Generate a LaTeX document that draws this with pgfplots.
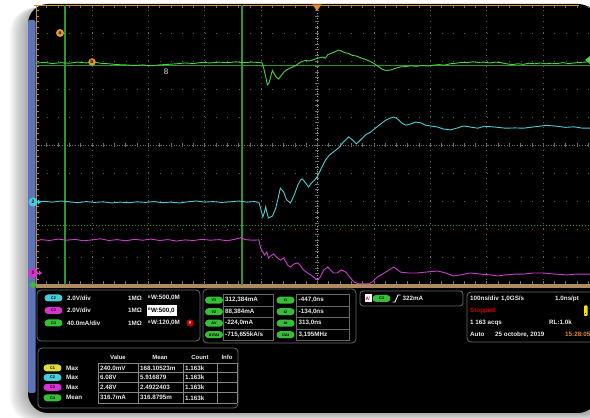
\documentclass[border=0pt]{standalone}
\usepackage{pgfplots}
\pgfplotsset{compat=1.18}
\usepackage{fontspec}
\setmainfont{Liberation Sans}
\definecolor{trgreen}{RGB}{80,210,70}
\definecolor{trcyan}{RGB}{80,205,210}
\definecolor{trmag}{RGB}{205,60,205}
\definecolor{curgreen}{RGB}{45,150,45}
\definecolor{gridc}{RGB}{95,95,95}
\definecolor{orng}{RGB}{225,140,45}
\definecolor{tanc}{RGB}{175,140,95}
\definecolor{bstrip}{RGB}{95,115,185}
\definecolor{pillg}{RGB}{55,190,55}
\definecolor{pillc}{RGB}{70,205,215}
\definecolor{pillm}{RGB}{215,50,205}
\definecolor{pilly}{RGB}{220,220,60}
\definecolor{panelb}{RGB}{105,105,105}
\definecolor{txt}{RGB}{235,235,235}
\newcommand{\pill}[4]{\node[fill=#3, rounded corners=3.5bp, minimum width=18bp, minimum height=7bp, inner sep=0pt, text=black, font=\fontsize{3.8}{4}\selectfont\bfseries] at (#1,#2) {#4};}
\newcommand{\tx}[3]{\node[anchor=west, inner sep=0pt, text=txt, font=\fontsize{6.3}{7}\selectfont\bfseries] at (#1,#2) {#3};}
\newcommand{\txk}[4]{\node[anchor=west, inner sep=0pt, text=#4, font=\fontsize{6.3}{7}\selectfont\bfseries] at (#1,#2) {#3};}
\newcommand{\txm}[3]{\node[anchor=center, inner sep=0pt, text=txt, font=\fontsize{6}{7}\selectfont\bfseries] at (#1,#2) {#3};}
\newcommand{\bw}{\raisebox{1.3bp}{\fontsize{3.6}{4}\selectfont B}\kern0.3bp W}
\begin{document}
\begin{tikzpicture}
\useasboundingbox (0,0) rectangle (590bp,418bp);
\fill[white] (0,0) rectangle (590bp,418bp);
\begin{scope}[shift={(0,418bp)}, x=1bp, y=-1bp]
  % soft shadow
  \foreach \i in {1,...,10}
    \fill[black, opacity=0.035, rounded corners=24bp] ({28-1.8*\i},{5+0.3*\i}) rectangle (610,{413+0.9*\i});
  % black frame
  \fill[black, rounded corners=20bp] (28,4) rectangle (598,413);
  \fill[bstrip, rounded corners=2bp] (28,20) rectangle (35.5,393);
  % center lines
  \draw[tanc!80!white, line width=0.7bp, dash pattern=on 1bp off 1.6bp] (317,5) -- (317,285);
  \draw[gridc!90!white, line width=0.7bp, dash pattern=on 1bp off 1.6bp] (36,145) -- (590,145);
  \foreach \i in {1,...,49} \draw[gridc!90!white, line width=0.6bp] (315,{5+\i*5.6}) -- (319,{5+\i*5.6});
  \foreach \i in {1,...,49} \draw[gridc!90!white, line width=0.6bp] ({35.5+\i*11.28},143) -- ++(0,4);
  % edges
  \draw[orng, line width=1.1bp] (34,5.2) -- (579,5.2);
  \foreach \i in {1,...,49} \draw[gridc!90!white, line width=0.6bp] ({35.5+\i*11.28},6) -- ++(0,2.5);
  \draw[tanc, line width=1bp] (36,5) -- (36,286);
  \foreach \i in {1,...,49} \draw[tanc, line width=0.6bp] (36,{5+\i*5.6}) -- ++(3,0);
  \fill[tanc] (36,284) rectangle (600,288);
  \foreach \i in {1,...,49} \draw[gridc!90!white, line width=0.6bp] ({35.5+\i*11.28},284) -- ++(0,-2.5);
  % t1 cursor line (t = -447 ns)
  \draw[curgreen, line width=1.5bp] (65,5.5) -- (65,284);
\end{scope}

\begin{axis}[
  at={(35.5bp,133bp)}, anchor=south west, scale only axis,
  width=554.5bp, height=280bp,
  xmin=-500, xmax=483, ymin=-5, ymax=5,
  axis line style={draw=none},
  xtick={-400,-300,...,400}, ytick={-4,-3,...,4},
  xticklabels={}, yticklabels={},
  major tick length=0pt,
  grid=major,
  x grid style={gridc, line width=0.8bp, dash pattern=on 0.8bp off 4.8bp},
  y grid style={gridc, line width=0.8bp, dash pattern=on 0.8bp off 10.48bp},
  clip=true,
]
\addplot[draw=none, forget plot] coordinates {(0,0) (1,0)};
% cursors (t1 = -447 ns, t2 = -134 ns, V1, V2)
\draw[curgreen, line width=1.5bp] (axis cs:-447,-5) -- (axis cs:-447,5);
\draw[curgreen, line width=1.5bp] (axis cs:-134,-5) -- (axis cs:-134,5);
\draw[curgreen, line width=1.1bp] (axis cs:-500,2.84) -- (axis cs:483,2.84);
\draw[curgreen, line width=1bp, dash pattern=on 1.5bp off 1.5bp] (axis cs:-500,-2.86) -- (axis cs:483,-2.86);
% C4 green trace
\addplot[trgreen, line width=0.9bp] coordinates {
(-500,2.92) (-485,2.95) (-470,2.91) (-455,2.94) (-440,2.92) (-425,2.96) (-410,2.93) (-398,2.97) (-385,2.92) (-370,2.90)
(-355,2.87) (-340,2.86) (-325,2.84) (-310,2.86) (-295,2.83) (-280,2.86) (-265,2.88) (-250,2.90) (-235,2.93) (-220,2.91)
(-205,2.95) (-190,2.93) (-175,2.96) (-160,2.94) (-145,2.97) (-130,2.94) (-118,2.96) (-105,2.95) (-98,2.93) (-95,2.7)
(-92,2.45) (-89,2.15) (-86,2.22) (-83,2.45) (-80,2.66) (-77,2.55) (-73,2.42) (-69,2.36) (-65,2.47) (-60,2.6)
(-55,2.68) (-48,2.75) (-40,2.82) (-30,2.96) (-22,3.02) (-15,3.0) (-9,3.03) (0,3.1) (9,3.14) (14,3.1)
(18,3.22) (25,3.28) (32,3.34) (37,3.39) (42,3.36) (48,3.3) (55,3.27) (62,3.2) (70,3.17) (78,3.1)
(86,3.05) (94,2.98) (101,2.9) (108,2.8) (115,2.7) (122,2.66) (130,2.68) (138,2.74) (147,2.79) (156,2.8)
(165,2.83) (175,2.81) (185,2.84) (195,2.82) (205,2.85) (215,2.87) (225,2.85) (235,2.9) (245,2.92) (255,2.95)
(265,2.94) (275,2.97) (285,2.95) (295,2.96) (305,2.93) (315,2.96) (325,2.94) (335,2.9) (345,2.87) (355,2.9)
(365,2.88) (375,2.92) (385,2.9) (395,2.93) (405,2.9) (415,2.92) (425,2.91) (435,2.94) (445,2.91) (455,2.93)
(465,2.95) (475,2.96) (483,2.98)};
% C2 cyan trace
\addplot[trcyan, line width=0.9bp] coordinates {
(-500,-2.05) (-485,-2.01) (-470,-2.04) (-455,-2.0) (-440,-2.03) (-425,-2.06) (-410,-2.02) (-395,-2.05) (-380,-2.03) (-365,-2.07)
(-350,-2.04) (-335,-2.06) (-320,-2.03) (-305,-2.05) (-290,-2.02) (-275,-2.06) (-260,-2.04) (-245,-2.07) (-230,-2.03) (-215,-2.0)
(-200,-2.04) (-185,-2.02) (-170,-2.05) (-155,-2.03) (-140,-2.0) (-125,-2.04) (-112,-2.02) (-104,-2.05) (-101,-2.25) (-97,-2.57)
(-94,-2.39) (-92,-2.21) (-90,-2.39) (-87,-2.61) (-83,-2.57) (-80,-2.54) (-74,-2.25) (-69,-1.82) (-66,-1.54) (-60,-1.68)
(-55,-1.96) (-48,-2.07) (-42,-1.82) (-35,-1.43) (-30,-1.25) (-27,-1.21) (-21,-1.36) (-16,-1.5) (-11,-1.36) (-5,-1.25)
(0,-1.11) (7,-0.82) (14,-0.54) (21,-0.36) (28,-0.25) (37,-0.11) (46,0.11) (55,0.29) (62,0.18) (69,0.04)
(76,0.18) (85,0.36) (94,0.46) (103,0.61) (112,0.75) (121,0.89) (129,0.96) (135,1.0) (142,0.93) (149,0.79)
(156,0.71) (165,0.75) (174,0.82) (183,0.79) (191,0.71) (200,0.68) (213,0.64) (223,0.57) (236,0.54) (248,0.61)
(259,0.68) (271,0.64) (284,0.6) (296,0.67) (315,0.64) (333,0.6) (350,0.61) (365,0.6) (385,0.65) (405,0.7)
(420,0.68) (440,0.63) (455,0.65) (470,0.6) (483,0.6)};
% C3 magenta trace
\addplot[trmag, line width=0.9bp] coordinates {
(-500,-3.43) (-490,-3.38) (-475,-3.41) (-460,-3.36) (-445,-3.40) (-430,-3.37) (-415,-3.42) (-400,-3.39) (-385,-3.35) (-370,-3.41)
(-355,-3.38) (-340,-3.42) (-325,-3.37) (-310,-3.40) (-295,-3.36) (-280,-3.41) (-265,-3.38) (-250,-3.43) (-235,-3.39) (-220,-3.41)
(-205,-3.37) (-190,-3.40) (-175,-3.38) (-160,-3.42) (-145,-3.36) (-136,-3.31) (-128,-3.38) (-115,-3.40) (-104,-3.39) (-101,-3.68)
(-97,-3.82) (-94,-3.93) (-90,-3.82) (-87,-4.04) (-83,-3.96) (-78,-3.89) (-73,-4.0) (-66,-4.11) (-60,-4.04) (-53,-4.29)
(-48,-4.36) (-42,-4.25) (-35,-4.21) (-30,-4.32) (-25,-4.46) (-18,-4.57) (-12,-4.64) (-5,-4.75) (0,-4.82) (5,-4.71)
(11,-4.46) (18,-4.36) (23,-4.46) (28,-4.57) (35,-4.57) (42,-4.46) (50,-4.54) (57,-4.71) (64,-4.89) (73,-4.96)
(82,-4.96) (90,-4.96) (97,-4.89) (106,-4.71) (115,-4.61) (124,-4.5) (129,-4.43) (135,-4.36) (142,-4.46) (147,-4.54)
(161,-4.57) (177,-4.57) (191,-4.54) (213,-4.5) (227,-4.57) (241,-4.68) (253,-4.64) (271,-4.57) (289,-4.61) (307,-4.64)
(319,-4.68) (333,-4.64) (351,-4.61) (365,-4.61) (383,-4.57) (400,-4.57) (420,-4.61) (443,-4.64) (458,-4.61) (483,-4.61)};
\end{axis}

\begin{scope}[shift={(0,418bp)}, x=1bp, y=-1bp]
  % markers on the grid
  \fill[orng] (312.5,4.5) -- (321.5,4.5) -- (317,11) -- cycle;
  \node[circle, fill=orng!90!yellow, minimum size=8bp, inner sep=0pt, text=black, font=\fontsize{5}{5}\selectfont\bfseries] at (60,33) {a};
  \node[circle, fill=orng!90!yellow, minimum size=7.5bp, inner sep=0pt, text=black, font=\fontsize{5}{5}\selectfont\bfseries] at (92,62) {b};
  \node[text=white!80!gray, inner sep=0pt, font=\fontsize{8}{8}\selectfont] at (166,72) {8};
  \fill[trgreen] (590,56) -- (585,60) -- (590,64) -- cycle;
  \node[circle, fill=pillc, minimum size=9bp, inner sep=0pt, text=black, font=\fontsize{5}{5}\selectfont\bfseries] at (33,202) {2};
  \fill[pillc] (38,199.5) -- (41,202) -- (38,204.5) -- cycle;
  \node[circle, fill=pillm, minimum size=10bp, inner sep=0pt, text=black, font=\fontsize{5}{5}\selectfont\bfseries] at (33,273) {3};
  \fill[pillm] (39,270.5) -- (42,273) -- (39,275.5) -- cycle;
  \fill[pillg] (33,285) circle (3bp);

  % Panel 1: channels
  \draw[panelb, line width=0.8bp, rounded corners=4bp] (37,290) rectangle (200,341);
  \pill{53.5}{298}{pillc}{C2}
  \pill{53.5}{310.5}{pillm}{C3}
  \pill{53.5}{323}{pillg}{C4}
  \tx{67}{298}{2.0V/div}
  \tx{67}{310.5}{2.0V/div}
  \tx{67}{323}{40.0mA/div}
  \tx{128}{298}{1MΩ}
  \tx{128}{310.5}{1MΩ}
  \tx{128}{323}{1MΩ}
  \tx{148}{298}{\bw:500,0M}
  \fill[white] (147,305) rectangle (177,316);
  \txk{148}{310.5}{\bw:500,0}{black}
  \tx{148}{323}{\bw:120,0M}
  \fill[red!75!black] (190,323) circle (3.6bp);
  \node[text=white, inner sep=0pt, font=\fontsize{5}{5}\selectfont\bfseries] at (190,323) {×};

  % Panel 2: cursors
  \draw[panelb, line width=0.8bp, rounded corners=4bp] (203,289) rectangle (356,343);
  \foreach \r in {0,1,2,3} {
    \draw[panelb, line width=0.7bp] (223,{294.5+\r*11.5}) rectangle (273,{306+\r*11.5});
    \draw[panelb, line width=0.7bp] (296,{294.5+\r*11.5}) rectangle (349,{306+\r*11.5});
  }
  \pill{214}{300.2}{pillg}{V1}
  \pill{214}{311.7}{pillg}{V2}
  \pill{214}{323.2}{pillg}{ΔV}
  \pill{214}{334.7}{pillg}{ΔV/Δt}
  \tx{225}{300.2}{312,384mA}
  \tx{225}{311.7}{88,384mA}
  \tx{225}{323.2}{-224,0mA}
  \tx{225}{334.7}{-715,655kA/s}
  \pill{285.5}{300.2}{pillg}{t1}
  \pill{285.5}{311.7}{pillg}{t2}
  \pill{285.5}{323.2}{pillg}{Δt}
  \pill{285.5}{334.7}{pillg}{1/Δt}
  \tx{298.5}{300.2}{-447,0ns}
  \tx{298.5}{311.7}{-134,0ns}
  \tx{298.5}{323.2}{313,0ns}
  \tx{298.5}{334.7}{3,195MHz}

  % Panel 3: trigger
  \draw[panelb, line width=0.8bp, rounded corners=3bp] (360,291) rectangle (463,306);
  \fill[white] (364.5,294.5) rectangle (371.5,302.5);
  \node[text=red!80!black, inner sep=0pt, font=\fontsize{5}{5}\selectfont\bfseries] at (368,298.5) {A'};
  \pill{381.5}{298.5}{pillg}{C4}
  \draw[white, line width=0.8bp] (392.5,302) -- (395,302) -- (398,295) -- (400.5,295);
  \tx{402.5}{298.5}{322mA}

  % Panel 4: timebase
  \draw[panelb, line width=0.8bp, rounded corners=4bp] (467,292) rectangle (606,342);
  \tx{470}{298.5}{100ns/div}
  \tx{501}{298.5}{1,0GS/s}
  \tx{555}{298.5}{1.0ns/pt}
  \txk{470}{310.5}{Stopped}{red!85!black}
  \fill[yellow!85!orange, rounded corners=0.8bp] (584,305.5) rectangle (587.5,316);
  \fill[black] (585.2,313) rectangle (586.3,314.5);
  \tx{470}{322.5}{1 163 acqs}
  \tx{549}{322.5}{RL:1.0k}
  \tx{470}{334.5}{Auto}
  \tx{495}{334.5}{25 octobre, 2019}
  \txk{565}{334.5}{15:28:05}{orng}

  % Panel 5: measurements table
  \draw[panelb, line width=0.8bp, rounded corners=4bp] (38,348) rectangle (238,408);
  \txm{118}{357}{Value}
  \txm{160}{357}{Mean}
  \txm{200}{357}{Count}
  \txm{227}{357}{Info}
  \foreach \yy in {363.3,372.7,382.3,392.3,403.3} \draw[panelb!80!white, line width=0.7bp] (98,\yy) -- (237,\yy);
  \foreach \xx in {98,138,183,217,237} \draw[panelb!80!white, line width=0.7bp] (\xx,363.3) -- (\xx,403.3);
  \pill{52.5}{368}{pilly}{C1}
  \pill{52.5}{377.5}{pillc}{C2}
  \pill{52.5}{387.3}{pillm}{C3}
  \pill{52.5}{397.8}{pillg}{C4}
  \tx{66}{368}{Max}
  \tx{66}{377.5}{Max}
  \tx{66}{387.3}{Max}
  \tx{66}{397.8}{Mean}
  \tx{100}{368}{240.0mV}
  \tx{100}{377.5}{6.08V}
  \tx{100}{387.3}{2.48V}
  \tx{100}{397.8}{316.7mA}
  \tx{140}{368}{168.10523m}
  \tx{140}{377.5}{5.916879}
  \tx{140}{387.3}{2.4922403}
  \tx{140}{397.8}{316.8795m}
  \tx{185}{368}{1.163k}
  \tx{185}{377.5}{1.163k}
  \tx{185}{387.3}{1.163k}
  \tx{185}{397.8}{1.163k}
\end{scope}
\end{tikzpicture}
\end{document}
